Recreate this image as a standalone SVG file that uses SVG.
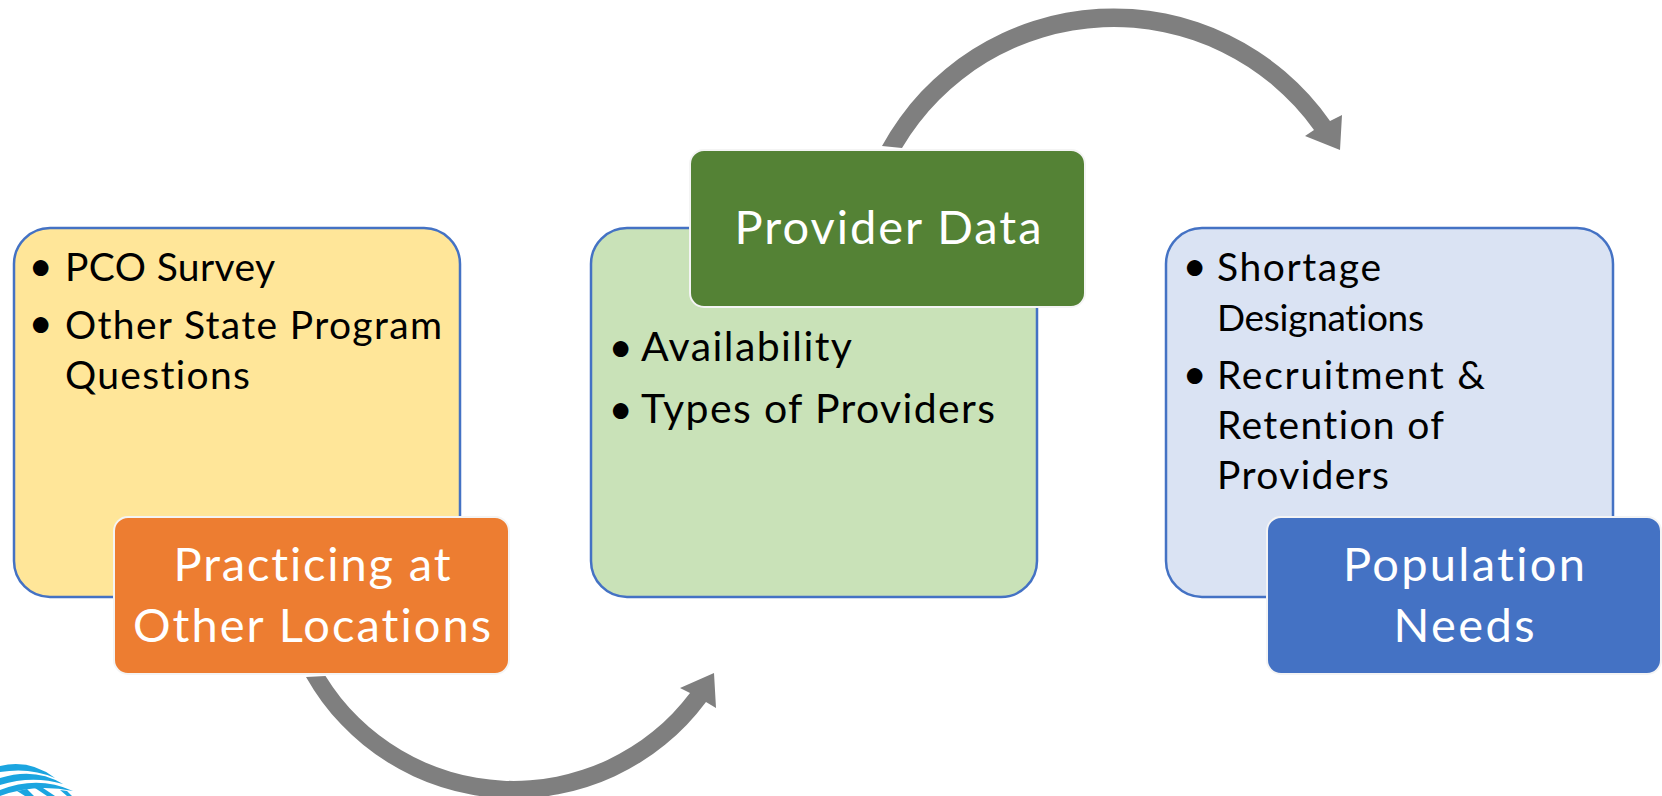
<svg xmlns="http://www.w3.org/2000/svg" width="1662" height="796" viewBox="0 0 1662 796">
<style>
text{font-family:"Lato","Liberation Sans",sans-serif;font-variant-ligatures:none}
.body{font-size:39px;fill:#000}
.big{font-size:41px}
.small{font-size:37px}
.bullet{font-size:42px;fill:#000}
.head{font-size:47px;fill:#fff;text-anchor:middle}
.panel{stroke:#4472c4;stroke-width:2.5}
.tab{stroke:#f4f4f4;stroke-width:2}
.arrow{fill:#7f7f7f}
.mark{fill:#1ba5e0}
</style>
<rect width="1662" height="796" fill="#fff"/>
<g id="logo">
<path class="mark" d="M0 766Q30 759 55 778Q30 767 0 772Z"/>
<path class="mark" d="M0 778Q35 767 63 784Q32 775 0 785Z"/>
<path class="mark" d="M0 790Q38 775 73 791Q35 783 0 796Z"/>
<path class="mark" d="M17 791L27 789L34 796L25 796ZM35 788L43 788L55 796L47 796ZM60 790L67 791L72 796L67 796Z"/>
</g>
<g id="connectors">
<path class="arrow" d="M306 677A239 239 0 0 0 706 702L716 708L714 673L680 688L690 693A221 221 0 0 1 325.500 676Z"/>
<path class="arrow" d="M882 146A264 264 0 0 1 1330 121L1342 115L1340 150L1305 136L1314 130A246 246 0 0 0 902 148Z"/>
</g>
<g id="node-yellow">
<rect class="panel" x="14" y="228" width="446" height="369" rx="36" fill="#ffe699"/>
<text class="bullet" x="28.500" y="281">•</text><text class="body" x="65" y="281" textLength="210">PCO Survey</text>
<text class="bullet" x="28.500" y="338">•</text><text class="body" x="65" y="339" textLength="377">Other State Program</text>
<text class="body" x="65" y="389" textLength="185">Questions</text>
</g>
<g id="node-orange">
<rect class="tab" x="114" y="517" width="395" height="157" rx="14" fill="#ed7d31"/>
<text class="head" x="312" y="581" textLength="277">Practicing at</text>
<text class="head" x="312" y="642" textLength="358">Other Locations</text>
</g>
<g id="node-green-panel">
<rect class="panel" x="591" y="228" width="446" height="369" rx="36" fill="#c9e2b8"/>
<text class="bullet" x="608.500" y="362">•</text><text class="body big" x="641" y="361" textLength="211">Availability</text>
<text class="bullet" x="608.500" y="424">•</text><text class="body big" x="641" y="423" textLength="354">Types of Providers</text>
</g>
<g id="node-green">
<rect class="tab" x="690" y="150" width="395" height="157" rx="14" fill="#548235"/>
<text class="head" x="888" y="244" textLength="307">Provider Data</text>
</g>
<g id="node-blue-panel">
<rect class="panel" x="1166" y="228" width="447" height="369" rx="36" fill="#dae3f3"/>
<text class="bullet" x="1182.500" y="281">•</text><text class="body" x="1217" y="281" textLength="164">Shortage</text>
<text class="body small" x="1217" y="331" textLength="207">Designations</text>
<text class="bullet" x="1182.500" y="389">•</text><text class="body" x="1217" y="389" textLength="268">Recruitment &amp;</text>
<text class="body" x="1217" y="439" textLength="227">Retention of</text>
<text class="body" x="1217" y="489" textLength="172">Providers</text>
</g>
<g id="node-blue">
<rect class="tab" x="1267" y="517" width="394" height="157" rx="14" fill="#4472c4"/>
<text class="head" x="1464" y="581" textLength="242">Population</text>
<text class="head" x="1464" y="642" textLength="141">Needs</text>
</g>
</svg>
